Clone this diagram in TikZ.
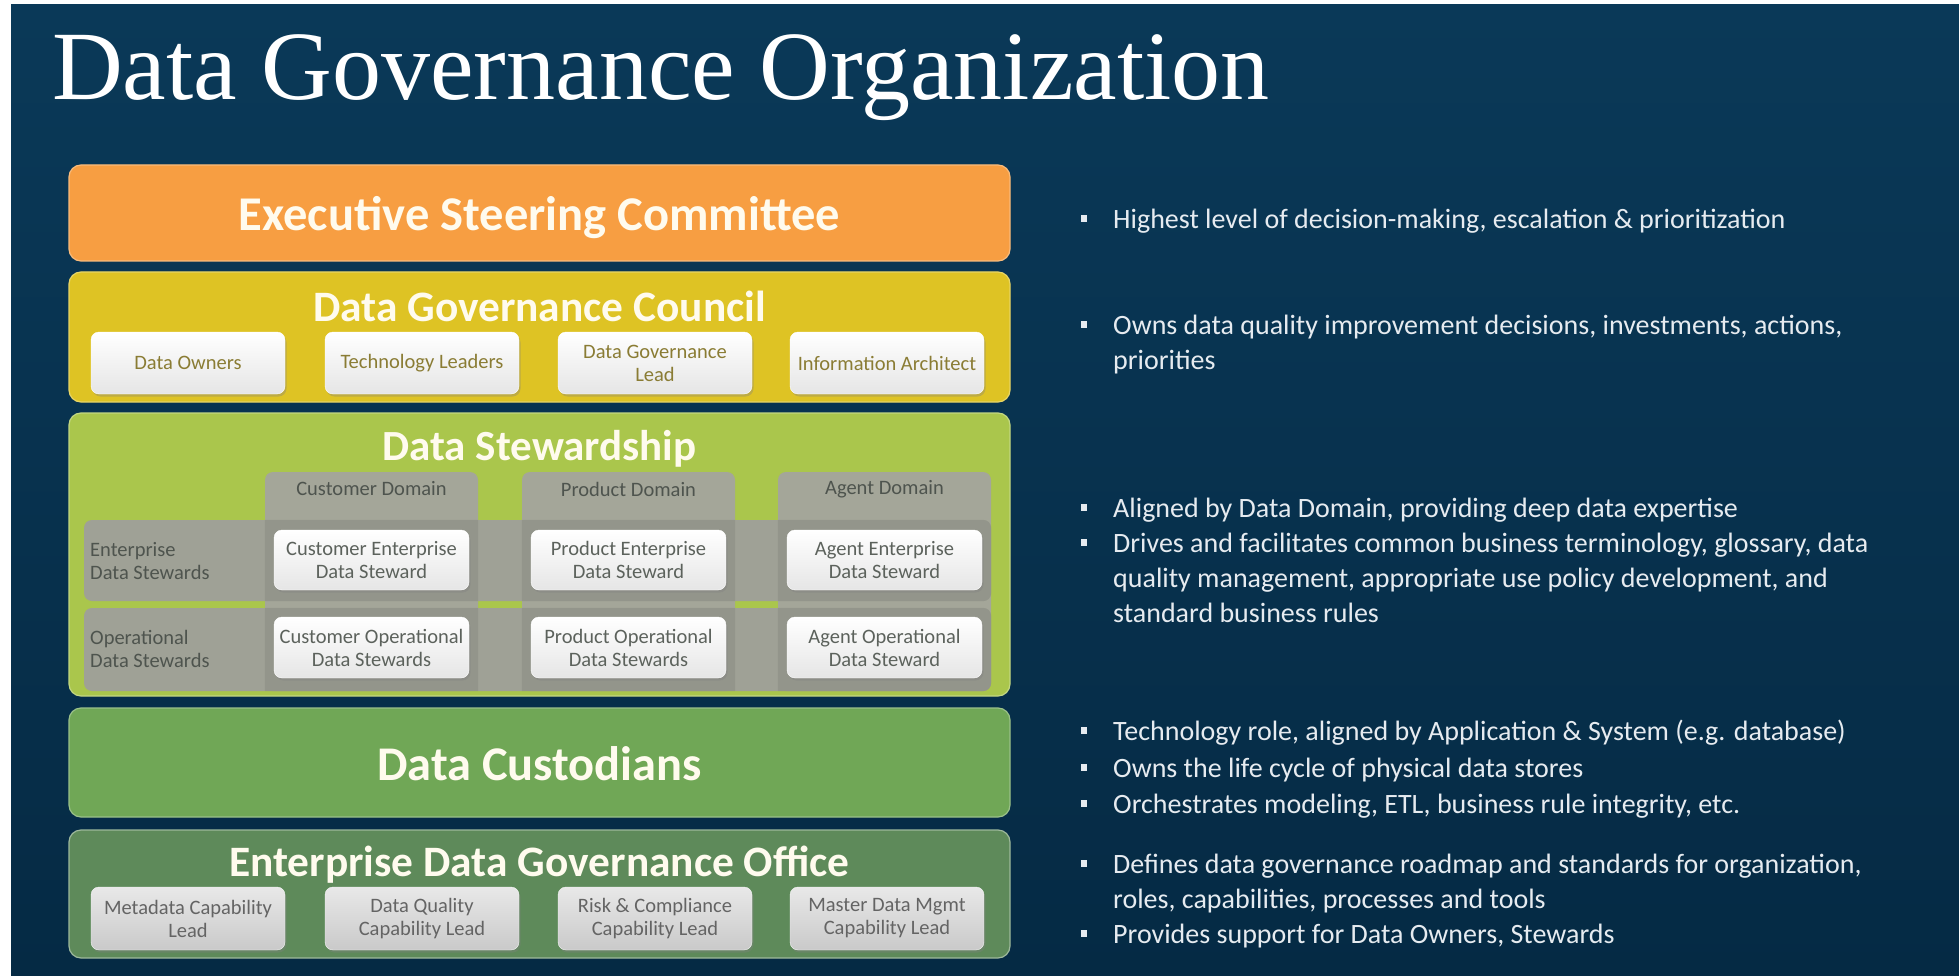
\documentclass[tikz,border=0pt]{standalone}
\usepackage{fontspec}
\setmainfont{Carlito}
\newfontfamily\titlefont{Liberation Serif}
\usetikzlibrary{shadows}

\definecolor{bgA}{RGB}{10,57,88}
\definecolor{bgB}{RGB}{5,42,68}
\definecolor{escOrange}{RGB}{247,158,66}
\definecolor{dgcYellow}{RGB}{222,195,36}
\definecolor{dsGreen}{RGB}{170,198,76}
\definecolor{dcGreen}{RGB}{112,167,86}
\definecolor{edgoGreen}{RGB}{94,138,90}
\definecolor{titleWhite}{RGB}{255,251,238}
\definecolor{oliveText}{RGB}{138,124,52}
\definecolor{grayText}{RGB}{92,98,92}
\definecolor{hdrText}{RGB}{78,84,78}
\definecolor{edgoText}{RGB}{100,100,100}
\definecolor{bulletText}{RGB}{230,235,240}
\definecolor{colTab}{RGB}{164,166,153}
\definecolor{rowTab}{RGB}{159,161,150}

\tikzset{
  layer/.style={rounded corners=12pt, minimum width=941pt, inner sep=0pt, line width=1.2pt},
  bigtitle/.style={text=titleWhite, inner sep=0pt},
  subbox/.style={rounded corners=8pt, minimum width=194pt, minimum height=62pt, inner sep=0pt,
    align=center, font=\fontsize{20.5}{23}\selectfont,
    drop shadow={opacity=0.35, shadow xshift=1.5pt, shadow yshift=-2.5pt}},
  wbox/.style={subbox, top color=white, bottom color=black!10, draw=white},
  gbox/.style={subbox, top color=black!9, bottom color=black!21, draw=black!4, text=edgoText},
  coltab/.style={rounded corners=8pt, fill=colTab, inner sep=0pt, minimum width=213pt, minimum height=219pt},
  rowtab/.style={rounded corners=8pt, fill=rowTab, inner sep=0pt, minimum width=907pt},
  lbl/.style={text=hdrText, font=\fontsize{20.5}{23}\selectfont, inner sep=0pt, align=left},
  btext/.style={text=bulletText, font=\fontsize{28}{35}\selectfont, inner sep=0pt, anchor=base west},
  bul/.style={fill=bulletText, minimum width=6pt, minimum height=7pt, inner sep=0pt}
}

\begin{document}
\begin{tikzpicture}[x=1pt,y=-1pt]
\useasboundingbox (0,0) rectangle (1959,976);
\fill[white] (0,0) rectangle (1959,976);
\shade[top color=bgA, bottom color=bgB] (11,5) rectangle (1959,976);

% title
\node[text=white, font=\titlefont\fontsize{98}{100}\selectfont, anchor=base west, inner sep=0pt]
  (title) at (52,100) {Data Governance Organization};

% Executive Steering Committee
\node[layer, fill=escOrange, draw=escOrange!70!white, minimum height=96pt] (esc) at (539.5,213) {};
\node[bigtitle, font=\bfseries\fontsize{48.5}{52}\selectfont] (esct) at (539.5,218) {Executive Steering Committee};

% Data Governance Council
\node[layer, fill=dgcYellow, draw=dgcYellow!70!white, minimum height=130pt] (dgc) at (539.5,337) {};
\node[bigtitle, font=\bfseries\fontsize{43.4}{46}\selectfont] (dgct) at (539.5,306) {Data Governance Council};
\node[wbox, text=oliveText] (do) at (188,363) {Data Owners};
\node[wbox, text=oliveText] (tl) at (422,363) {Technology Leaders};
\node[wbox, text=oliveText] (dgl) at (655,363) {Data Governance\\Lead};
\node[wbox, text=oliveText] (ia) at (887,363) {Information Architect};

% Data Stewardship
\node[layer, fill=dsGreen, draw=dsGreen!70!white, minimum height=283pt] (ds) at (539.5,554.5) {};
\node[bigtitle, font=\bfseries\fontsize{43}{46}\selectfont] (dst) at (539.5,449) {Data Stewardship};
\node[coltab] (colc) at (371.5,581.5) {};
\node[coltab] (colp) at (628.5,581.5) {};
\node[coltab] (cola) at (884.5,581.5) {};
\node[rowtab, minimum height=81pt] (rowe) at (537.5,560.5) {};
\node[rowtab, minimum height=83pt] (rowo) at (537.5,649.5) {};
\foreach \c in {colc,colp,cola}{
  \begin{scope}
    \clip (\c.south west) rectangle (\c.north east);
    \fill[black, opacity=0.07, rounded corners=8pt] (rowe.south west) rectangle (rowe.north east);
    \fill[black, opacity=0.07, rounded corners=8pt] (rowo.south west) rectangle (rowo.north east);
  \end{scope}
}
\node[lbl] (hc) at (371.5,489) {Customer Domain};
\node[lbl] (hp) at (628.5,489) {Product Domain};
\node[lbl] (ha) at (884.5,489) {Agent Domain};
\node[lbl, anchor=west] (le) at (90,561) {Enterprise\\Data Stewards};
\node[lbl, anchor=west] (lo) at (90,649) {Operational\\Data Stewards};
\node[wbox, text=grayText, minimum width=195pt, minimum height=60pt] (ce) at (371.5,560) {Customer Enterprise\\Data Steward};
\node[wbox, text=grayText, minimum width=195pt, minimum height=60pt] (pe) at (628.5,560) {Product Enterprise\\Data Steward};
\node[wbox, text=grayText, minimum width=195pt, minimum height=60pt] (ae) at (884.5,560) {Agent Enterprise\\Data Steward};
\node[wbox, text=grayText, minimum width=195pt, minimum height=61pt] (co) at (371.5,647.5) {Customer Operational\\Data Stewards};
\node[wbox, text=grayText, minimum width=195pt, minimum height=61pt] (po) at (628.5,647.5) {Product Operational\\Data Stewards};
\node[wbox, text=grayText, minimum width=195pt, minimum height=61pt] (ao) at (884.5,647.5) {Agent Operational\\Data Steward};

% Data Custodians
\node[layer, fill=dcGreen, draw=dcGreen!70!white, minimum height=109pt] (dc) at (539.5,762.5) {};
\node[bigtitle, font=\bfseries\fontsize{48.4}{52}\selectfont] (dct) at (539.5,764) {Data Custodians};

% Enterprise Data Governance Office
\node[layer, fill=edgoGreen, draw=edgoGreen!60!white, minimum height=128pt] (edgo) at (539.5,894) {};
\node[bigtitle, font=\bfseries\fontsize{43.4}{46}\selectfont] (edgot) at (539.5,864.5) {Enterprise Data Governance Office};
\node[gbox, minimum height=63pt] (mcl) at (188,918.5) {Metadata Capability\\Lead};
\node[gbox, minimum height=63pt] (dqc) at (422,918.5) {Data Quality\\Capability Lead};
\node[gbox, minimum height=63pt] (rcc) at (655,918.5) {Risk \& Compliance\\Capability Lead};
\node[gbox, minimum height=63pt] (mdm) at (887,918.5) {Master Data Mgmt\\Capability Lead};

% bullets
\node[bul] (b1) at (1084,218.5) {};
\node[btext] (t1) at (1113,229) {Highest level of decision-making, escalation \& prioritization};
\node[bul] (b2) at (1084,324) {};
\node[btext] (t2a) at (1113,334.5) {Owns data quality improvement decisions, investments, actions,};
\node[btext] (t2b) at (1113,369.5) {priorities};
\node[bul] (b3) at (1084,507) {};
\node[btext] (t3) at (1113,517.5) {Aligned by Data Domain, providing deep data expertise};
\node[bul] (b4) at (1084,542) {};
\node[btext] (t4a) at (1113,552.5) {Drives and facilitates common business terminology, glossary, data};
\node[btext] (t4b) at (1113,587.5) {quality management, appropriate use policy development, and};
\node[btext] (t4c) at (1113,622.5) {standard business rules};
\node[bul] (b5) at (1084,730) {};
\node[btext] (t5) at (1113,740.5) {Technology role, aligned by Application \& System (e.g. database)};
\node[bul] (b6) at (1084,767) {};
\node[btext] (t6) at (1113,777.5) {Owns the life cycle of physical data stores};
\node[bul] (b7) at (1084,803) {};
\node[btext] (t7) at (1113,813.5) {Orchestrates modeling, ETL, business rule integrity, etc.};
\node[bul] (b8) at (1084,863) {};
\node[btext] (t8a) at (1113,873.5) {Defines data governance roadmap and standards for organization,};
\node[btext] (t8b) at (1113,908.5) {roles, capabilities, processes and tools};
\node[bul] (b9) at (1084,933) {};
\node[btext] (t9) at (1113,943.5) {Provides support for Data Owners, Stewards};
\end{tikzpicture}
\end{document}
